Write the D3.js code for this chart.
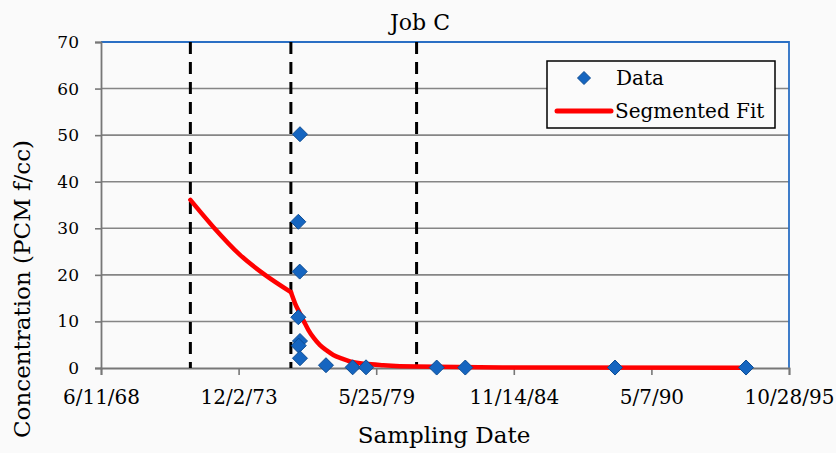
<!DOCTYPE html>
<html>
<head>
<meta charset="utf-8">
<script src="https://cdn.jsdelivr.net/npm/d3@7"></script>
<style>
  html, body { margin: 0; padding: 0; background: #fafafa; }
  svg { display: block; font-family: "DejaVu Serif", serif; }
</style>
</head>
<body>
<div id="chart"></div>
<script>
// sampled concentrations (PCM f/cc) by date
var sampleDates = ["1976-05-12", "1976-04-18", "1976-05-08", "1976-04-18", "1976-05-12",
                   "1976-04-24", "1976-05-12", "1977-05-25", "1978-06-17", "1978-12-28",
                   "1981-10-20", "1982-12-10", "1988-11-24", "1994-02-10"];
var sampleValues = [50.2, 31.4, 20.7, 10.9, 5.8, 4.8, 2.1, 0.6, 0.15, 0.15, 0.1, 0.1, 0.1, 0.1];

// segmented fit
var fitDates = ["1972-01-01", "1972-11-29", "1973-12-22", "1974-12-21", "1976-01-01",
                "1976-03-01", "1976-05-12", "1976-07-15", "1976-09-10", "1976-12-01",
                "1977-02-27", "1977-06-01", "1977-09-08", "1978-01-15", "1978-05-09",
                "1978-12-15", "1979-09-05", "1981-01-01", "1984-06-01", "1994-02-10"];
var fitValues = [36.1, 30.3, 24.3, 20.0, 16.3,
                 13.9, 11.7, 9.8, 8.2, 6.4,
                 4.9, 3.8, 2.8, 2.0, 1.4,
                 0.9, 0.6, 0.3, 0.12, 0.08];

// segment break points (dashed lines)
var breakDates = ["1972-01-01", "1976-01-01", "1981-01-01"];

var tickDates = ["1968-06-11", "1973-12-02", "1979-05-25", "1984-11-14", "1990-05-07", "1995-10-28"];
var yTicks = [0, 10, 20, 30, 40, 50, 60, 70];

var W = 836, H = 453;
var margin = {left: 101, right: 47, top: 42, bottom: 85};

var parse = d3.utcParse("%Y-%m-%d");
var fmt = d3.utcFormat("%-m/%-d/%y");

var svg = d3.select("#chart").append("svg")
    .attr("width", W).attr("height", H);

svg.append("rect").attr("width", W).attr("height", H).attr("fill", "#fafafa");

var x = d3.scaleUtc()
    .domain([parse(tickDates[0]), parse(tickDates[tickDates.length - 1])])
    .range([margin.left, W - margin.right]);
var y = d3.scaleLinear()
    .domain([0, 70])
    .range([H - margin.bottom, margin.top]);

var x0 = x.range()[0], x1 = x.range()[1];
var y0 = y.range()[0], y1 = y.range()[1];

// horizontal gridlines
svg.append("g").selectAll("line")
    .data(yTicks.filter(d => d > 0 && d < 70)).enter()
    .append("line")
    .attr("x1", x0).attr("x2", x1)
    .attr("y1", d => y(d)).attr("y2", d => y(d))
    .attr("stroke", "#858585").attr("stroke-width", 1.6);

// plot border top + right (blue)
svg.append("path")
    .attr("d", `M${x0},${y1}H${x1}V${y0}`)
    .attr("fill", "none").attr("stroke", "#2a6fc4").attr("stroke-width", 1.8);

// y axis
var yAxis = svg.append("g")
    .attr("transform", `translate(${x0},0)`)
    .call(d3.axisLeft(y).tickValues(yTicks).tickSize(6).tickPadding(16));
yAxis.select(".domain").attr("stroke", "#777").attr("stroke-width", 1.8);
yAxis.selectAll(".tick line").attr("stroke", "#777").attr("stroke-width", 1.6);
yAxis.selectAll("text").attr("font-family", "DejaVu Serif").attr("font-size", 17).attr("fill", "#000");

// x axis
var xAxis = svg.append("g")
    .attr("transform", `translate(0,${y0})`)
    .call(d3.axisBottom(x).tickValues(tickDates.map(parse)).tickFormat(fmt).tickSize(7).tickPadding(15));
xAxis.select(".domain").attr("stroke", "#777").attr("stroke-width", 1.8);
xAxis.selectAll(".tick line").attr("stroke", "#777").attr("stroke-width", 1.6);
xAxis.selectAll("text").attr("font-family", "DejaVu Serif").attr("font-size", 20).attr("fill", "#000");

// dashed break lines
svg.append("g").selectAll("line")
    .data(breakDates).enter()
    .append("line")
    .attr("x1", d => x(parse(d))).attr("x2", d => x(parse(d)))
    .attr("y1", y1).attr("y2", y0)
    .attr("stroke", "#000").attr("stroke-width", 3)
    .attr("stroke-dasharray", "12,8");

// fit curve - drawn per segment so the breaks stay sharp
var fit = fitDates.map((d, i) => ({date: parse(d), value: fitValues[i]}));
var line = d3.line()
    .x(d => x(d.date)).y(d => y(d.value))
    .curve(d3.curveMonotoneX);
var brk = parse(breakDates[1]);
var pieces = [fit.filter(d => d.date <= brk), fit.filter(d => d.date >= brk)];
svg.append("g").selectAll("path")
    .data(pieces).enter()
    .append("path")
    .attr("d", line)
    .attr("fill", "none").attr("stroke", "#ff0000").attr("stroke-width", 4.5)
    .attr("stroke-linejoin", "round").attr("stroke-linecap", "round");

// data diamonds
var diamond = function (r) { return `M0,${-r}L${r},0L0,${r}L${-r},0Z`; };
var pts = sampleDates.map((d, i) => ({date: parse(d), value: sampleValues[i]}));
svg.append("g").selectAll("path")
    .data(pts).enter()
    .append("path")
    .attr("d", diamond(7.5))
    .attr("transform", d => `translate(${x(d.date)},${y(d.value)})`)
    .attr("fill", "#1565c0").attr("stroke", "#0d4c93").attr("stroke-width", 1);

// legend
var lg = svg.append("g").attr("transform", "translate(547,61)");
lg.append("rect").attr("width", 228).attr("height", 67)
    .attr("fill", "#fbfbfb").attr("stroke", "#000").attr("stroke-width", 1.5);
lg.append("path").attr("d", diamond(6.5)).attr("transform", "translate(37,17)")
    .attr("fill", "#1565c0").attr("stroke", "#0d4c93").attr("stroke-width", 1);
lg.append("text").attr("x", 69).attr("y", 24).attr("font-size", 20).text("Data");
lg.append("line").attr("x1", 10).attr("x2", 64).attr("y1", 50).attr("y2", 50)
    .attr("stroke", "#ff0000").attr("stroke-width", 5).attr("stroke-linecap", "round");
lg.append("text").attr("x", 68).attr("y", 57).attr("font-size", 20).text("Segmented Fit");

// titles
svg.append("text").attr("x", 420).attr("y", 30).attr("text-anchor", "middle")
    .attr("font-size", 22).text("Job C");
svg.append("text").attr("x", 444).attr("y", 443).attr("text-anchor", "middle")
    .attr("font-size", 23).text("Sampling Date");
svg.append("text")
    .attr("transform", "translate(30,289) rotate(-90)")
    .attr("text-anchor", "middle")
    .attr("font-size", 23).text("Concentration (PCM f/cc)");
</script>
</body>
</html>
